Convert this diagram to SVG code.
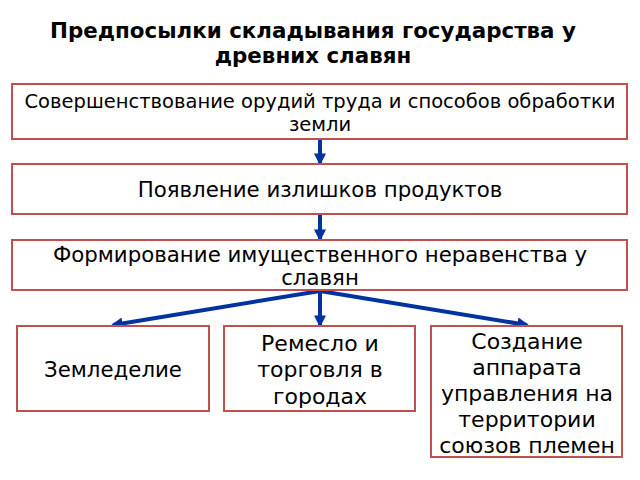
<svg xmlns="http://www.w3.org/2000/svg" width="640" height="480" viewBox="0 0 640 480">
<defs>
<style>
.box{fill:#fff;stroke:#c0504d;stroke-width:2}
.t{font-family:"DejaVu Sans",sans-serif;font-size:21.3px;fill:#000;text-anchor:middle}
.s{font-size:19.5px}
.l{font-size:22px}
.title{font-family:"DejaVu Sans",sans-serif;font-size:21.4px;font-weight:bold;fill:#000;text-anchor:middle}
.c{stroke:#0033a0;stroke-width:4;fill:none}
</style>
<marker id="ah" viewBox="0 0 10 10" refX="8" refY="5" markerWidth="3" markerHeight="3" orient="auto" markerUnits="strokeWidth">
<path d="M0,0 L10,5 L0,10 z" fill="#0033a0"/>
</marker>
</defs>
<rect width="640" height="480" fill="#fff"/>
<g id="title">
<text class="title" x="313" y="38">Предпосылки складывания государства у</text>
<text class="title" x="313" y="63">древних славян</text>
</g>
<g id="connectors">
<line class="c" x1="320" y1="140" x2="320" y2="163" marker-end="url(#ah)"/>
<line class="c" x1="320" y1="215" x2="320" y2="239" marker-end="url(#ah)"/>
<line class="c" x1="320" y1="291" x2="320" y2="325" marker-end="url(#ah)"/>
<line class="c" x1="320" y1="291" x2="113" y2="325" marker-end="url(#ah)"/>
<line class="c" x1="320" y1="291" x2="527" y2="325" marker-end="url(#ah)"/>
</g>
<g id="n1">
<rect class="box" x="12" y="84" width="615" height="55"/>
<text class="t s" x="320" y="108">Совершенствование орудий труда и способов обработки</text>
<text class="t s" x="320" y="131">земли</text>
</g>
<g id="n2">
<rect class="box" x="12" y="164" width="615" height="50"/>
<text class="t" x="320" y="197">Появление излишков продуктов</text>
</g>
<g id="n3">
<rect class="box" x="12" y="240" width="615" height="50"/>
<text class="t" x="320" y="262">Формирование имущественного неравенства у</text>
<text class="t" x="320" y="285">славян</text>
</g>
<g id="n4">
<rect class="box" x="17" y="326" width="192" height="85"/>
<text class="t" x="113" y="377">Земледелие</text>
</g>
<g id="n5">
<rect class="box" x="224" y="326" width="191" height="85"/>
<text class="t l" x="320" y="351">Ремесло и</text>
<text class="t l" x="320" y="377">торговля в</text>
<text class="t l" x="320" y="404">городах</text>
</g>
<g id="n6">
<rect class="box" x="431" y="326" width="191" height="131"/>
<text class="t l" x="527" y="349">Создание</text>
<text class="t l" x="527" y="375">аппарата</text>
<text class="t l" x="527" y="401">управления на</text>
<text class="t l" x="527" y="427">территории</text>
<text class="t l" x="527" y="453">союзов племен</text>
</g>
</svg>
